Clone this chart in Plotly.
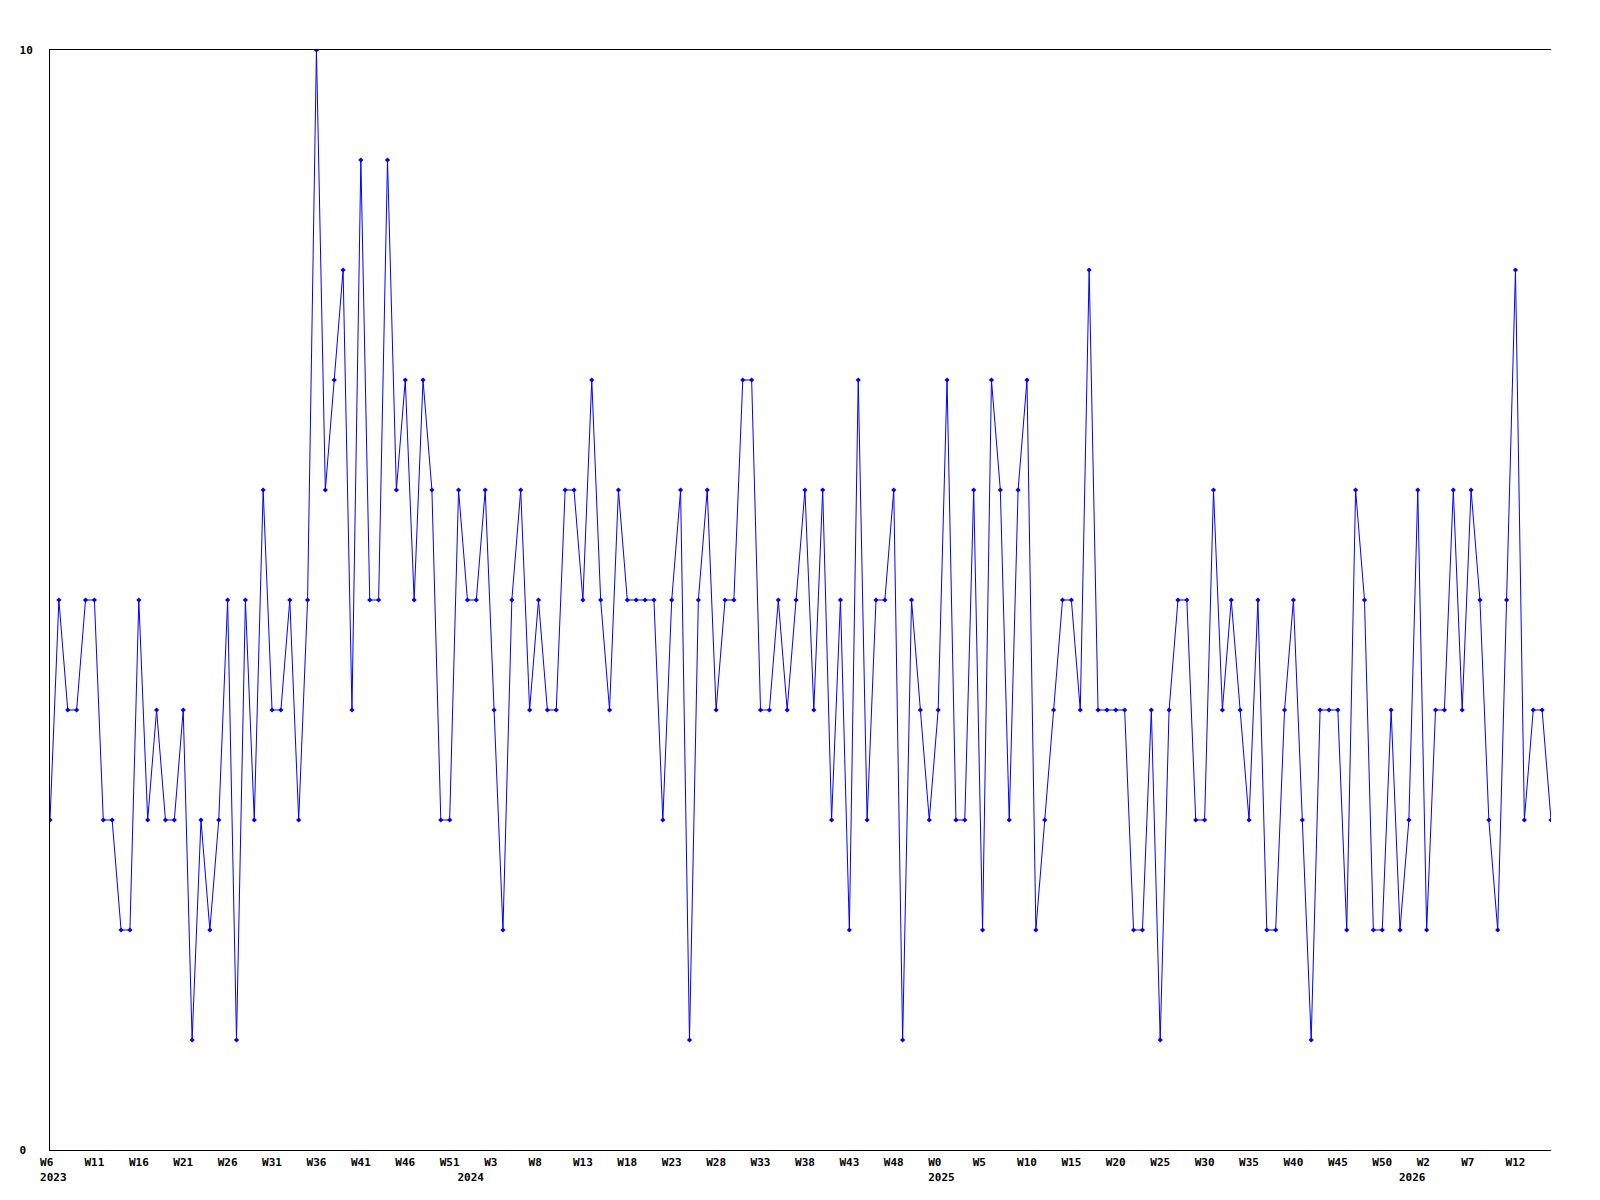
import plotly.graph_objects as go

values = [3, 5, 4, 4, 5, 5, 3, 3, 2, 2,
          5, 3, 4, 3, 3, 4, 1, 3, 2, 3,
          5, 1, 5, 3, 6, 4, 4, 5, 3, 5,
          10, 6, 7, 8, 4, 9, 5, 5, 9, 6,
          7, 5, 7, 6, 3, 3, 6, 5, 5, 6,
          4, 2, 5, 6, 4, 5, 4, 4, 6, 6,
          5, 7, 5, 4, 6, 5, 5, 5, 5, 3,
          5, 6, 1, 5, 6, 4, 5, 5, 7, 7,
          4, 4, 5, 4, 5, 6, 4, 6, 3, 5,
          2, 7, 3, 5, 5, 6, 1, 5, 4, 3,
          4, 7, 3, 3, 6, 2, 7, 6, 3, 6,
          7, 2, 3, 4, 5, 5, 4, 8, 4, 4,
          4, 4, 2, 2, 4, 1, 4, 5, 5, 3,
          3, 6, 4, 5, 4, 3, 5, 2, 2, 4,
          5, 3, 1, 4, 4, 4, 2, 6, 5, 2,
          2, 4, 2, 3, 6, 2, 4, 4, 6, 4,
          6, 5, 3, 2, 5, 8, 3, 4, 4, 3]

# week tick labels, one every 5 points starting at the first point
week_labels = ["W6", "W11", "W16", "W21", "W26", "W31", "W36", "W41", "W46", "W51",
               "W3", "W8", "W13", "W18", "W23", "W28", "W33", "W38", "W43", "W48",
               "W0", "W5", "W10", "W15", "W20", "W25", "W30", "W35", "W40", "W45", "W50",
               "W2", "W7", "W12"]
week_step = 5

# year labels, at the first point of each year
year_labels = ["2023", "2024", "2025", "2026"]
year_first_point = [0, 47, 100, 153]

NB = "\u00a0"

x = list(range(len(values)))

ticks = {}
for k, w in enumerate(week_labels):
    ticks[k * week_step] = [w.ljust(3, NB), ""]
for yl, p in zip(year_labels, year_first_point):
    ticks.setdefault(p, ["", ""])
    ticks[p][1] = NB + yl
tickvals = sorted(ticks)
ticktext = [ticks[v][0] + ("<br>" + ticks[v][1] if ticks[v][1] else "") for v in tickvals]

font = dict(family="DejaVu Sans Mono", size=11, color="black", weight="bold")

fig = go.Figure(go.Scatter(
    x=x, y=values, mode="lines+markers",
    line=dict(color="#0000ff", width=1),
    marker=dict(symbol="diamond", size=4, color="#0000ff"),
    hoverinfo="skip",
))

fig.update_layout(
    width=1584, height=1184,
    margin=dict(l=42, r=41, t=42, b=42),
    plot_bgcolor="white", paper_bgcolor="white",
    showlegend=False,
    font=font,
)
fig.update_xaxes(
    range=[0, len(values) - 1], tickvals=tickvals, ticktext=ticktext,
    showgrid=False, zeroline=False, showline=True, linecolor="black", linewidth=1,
    mirror=True, ticks="", tickfont=font, tickangle=0, ticklabelstandoff=2,
    automargin=False,
)
fig.update_yaxes(
    range=[0, 10], tickvals=[0, 10], ticktext=["0" + NB, "10"],
    showgrid=False, zeroline=False, showline=True, linecolor="black", linewidth=1,
    ticks="", tickfont=font, ticklabelstandoff=14, automargin=False,
)

fig.write_html("out.html")
